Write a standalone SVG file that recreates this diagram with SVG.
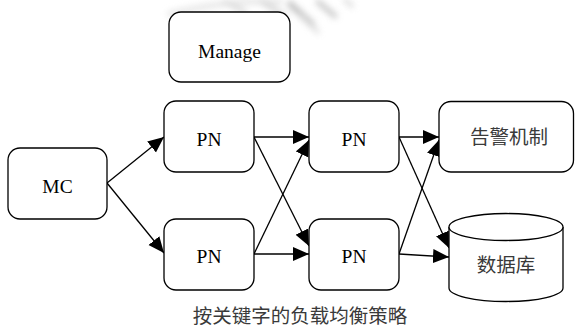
<svg xmlns="http://www.w3.org/2000/svg" width="575" height="329" viewBox="0 0 575 329">
  <defs>
    <marker id="arrow" markerUnits="userSpaceOnUse" markerWidth="17" markerHeight="15" refX="16" refY="7" orient="auto">
      <path d="M0,0 L16,7 L0,14 z" fill="#000"/>
    </marker>
    <filter id="smudge" x="-20%" y="-50%" width="140%" height="200%">
      <feGaussianBlur stdDeviation="3"/>
    </filter>
    <style>
      .box { fill: #fff; stroke: #000; stroke-width: 1.3; }
      .lat { font-family: Liberation Serif, Times New Roman, DejaVu Serif, serif; font-size: 19.5px; fill: #000; text-anchor: middle; }
      .cjk { font-family: Noto Sans CJK SC, sans-serif; font-size: 19.5px; fill: #3a3a3a; text-anchor: middle; }
      .edge { fill: none; stroke: #000; stroke-width: 1.3; marker-end: url(#arrow); }
    </style>
  </defs>

  <rect width="575" height="329" fill="#fff"/>

  <!-- faint grey smudge across the top -->
  <g filter="url(#smudge)" fill="none" stroke-linecap="round" opacity="0.8">
    <path d="M170,14 C210,4 250,0 280,2" stroke="#e2e2e2" stroke-width="6"/>
    <path d="M225,2 L245,12" stroke="#d4d4d4" stroke-width="5"/>
    <path d="M262,2 L285,16" stroke="#cfcfcf" stroke-width="5"/>
    <path d="M290,4 L312,24" stroke="#b0b0b0" stroke-width="6"/>
    <path d="M318,2 L335,16" stroke="#bbb" stroke-width="5"/>
    <path d="M345,0 L352,6" stroke="#d0d0d0" stroke-width="4"/>
    <path d="M300,16 L318,32" stroke="#d4d4d4" stroke-width="4"/>
  </g>

  <g id="connectors">
    <line class="edge" x1="107" y1="183" x2="164" y2="137"/>
    <line class="edge" x1="107" y1="183" x2="164" y2="253"/>
    <line class="edge" x1="254" y1="137" x2="309" y2="137"/>
    <line class="edge" x1="254" y1="137" x2="309" y2="246"/>
    <line class="edge" x1="254" y1="254" x2="309" y2="140"/>
    <line class="edge" x1="254" y1="254" x2="309" y2="254"/>
    <line class="edge" x1="399" y1="137" x2="439" y2="137"/>
    <line class="edge" x1="399" y1="254" x2="439" y2="140"/>
    <line class="edge" x1="399" y1="137" x2="449" y2="248"/>
    <line class="edge" x1="399" y1="254" x2="449" y2="257"/>
  </g>

  <g id="manage">
    <rect class="box" x="169" y="12" width="121" height="70" rx="12"/>
    <text class="lat" x="229.5" y="58">Manage</text>
  </g>

  <g id="mc">
    <rect class="box" x="8" y="148" width="99" height="71" rx="12"/>
    <text class="lat" x="57.5" y="193">MC</text>
  </g>

  <g id="pn-1a">
    <rect class="box" x="164" y="101" width="90" height="71" rx="12"/>
    <text class="lat" x="209" y="146">PN</text>
  </g>

  <g id="pn-1b">
    <rect class="box" x="164" y="219" width="90" height="71" rx="12"/>
    <text class="lat" x="209" y="263">PN</text>
  </g>

  <g id="pn-2a">
    <rect class="box" x="309" y="101" width="90" height="71" rx="12"/>
    <text class="lat" x="354" y="146">PN</text>
  </g>

  <g id="pn-2b">
    <rect class="box" x="309" y="219" width="90" height="71" rx="12"/>
    <text class="lat" x="354" y="263">PN</text>
  </g>

  <g id="alarm">
    <rect class="box" x="439" y="101.5" width="134.5" height="70.5" rx="12"/>
    <text class="cjk" x="509" y="144">告警机制</text>
  </g>

  <g id="database">
    <path class="box" d="M449,227 L449,288 A57,13.5 0 0 0 563,288 L563,227"/>
    <ellipse class="box" cx="506" cy="227" rx="57" ry="13.5"/>
    <text class="cjk" x="506" y="272">数据库</text>
  </g>

  <text class="cjk" x="300" y="323">按关键字的负载均衡策略</text>
</svg>
